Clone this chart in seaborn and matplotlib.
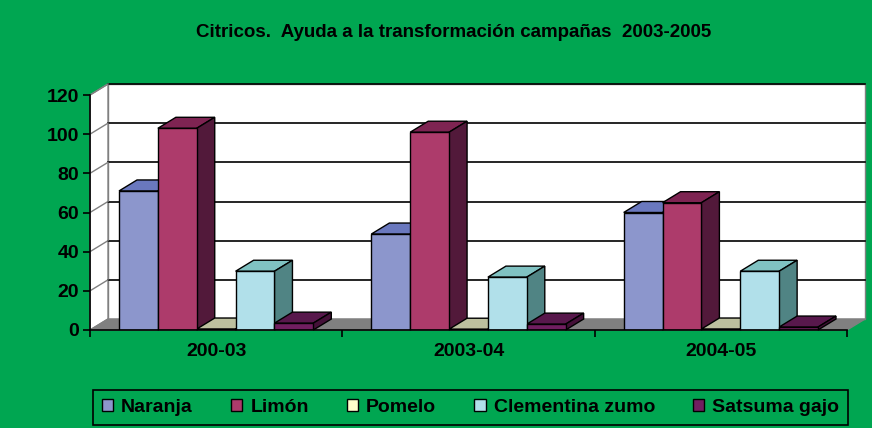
import pandas as pd
import matplotlib
matplotlib.use('Agg')
from matplotlib import pyplot as plt
from matplotlib.patches import Polygon, Patch
import seaborn as sns

campanas = ['200-03', '2003-04', '2004-05']
productos = ['Naranja', 'Limón', 'Pomelo', 'Clementina zumo', 'Satsuma gajo']
naranja = [71, 49, 60]
limon = [103, 101, 65]
pomelo = [0.5, 0.4, 0.5]
clementina = [30, 27, 30]
satsuma = [3.5, 3, 1.5]

# front / top / side colours per series
front = ['#8C96CC', '#AD3B6B', '#FFFFCC', '#B1E0EA', '#701E60']
top = ['#6A78BE', '#7E2452', '#BDC09E', '#80C2C2', '#58184C']
side = ['#4B5694', '#52193A', '#8F9270', '#508484', '#441038']
green = '#00A651'

df = pd.DataFrame({
    'Campaña': campanas * 5,
    'Producto': [p for p in productos for _ in campanas],
    'Valor': naranja + limon + pomelo + clementina + satsuma,
})

plt.rcParams['font.family'] = ['Liberation Sans', 'DejaVu Sans']
plt.rcParams['font.weight'] = 'bold'

fig = plt.figure(figsize=(8.72, 4.28), dpi=100)
fig.patch.set_facecolor(green)
W, H = 872, 428
x0, x1, y0, y1 = 90, 847, 330, 95
ax = fig.add_axes([x0 / W, 1 - y0 / H, (x1 - x0) / W, (y0 - y1) / H])
ax.set_facecolor('none')

sns.barplot(data=df, x='Campaña', y='Valor', hue='Producto', order=campanas,
            hue_order=productos, palette=front, saturation=1, width=0.77,
            edgecolor='black', linewidth=1, legend=False, ax=ax, zorder=3)

ax.set_xlim(-0.5, 2.5)
ax.set_ylim(0, 120)

# depth offset in data units (about 18 px right, 11 px up)
px_x = 3 / (x1 - x0)
px_y = 120 / (y0 - y1)
dx, dy = 18 * px_x, 11 * px_y

# back wall, left wall, floor
ax.add_patch(Polygon([(-0.5 + dx, dy), (2.5 + dx, dy), (2.5 + dx, 120 + dy), (-0.5 + dx, 120 + dy)],
                     closed=True, facecolor='white', edgecolor='#808080', lw=1, zorder=0, clip_on=False))
ax.add_patch(Polygon([(-0.5, 0), (-0.5 + dx, dy), (-0.5 + dx, 120 + dy), (-0.5, 120)],
                     closed=True, facecolor='white', edgecolor='#808080', lw=1, zorder=0, clip_on=False))
ax.add_patch(Polygon([(-0.5, 0), (2.5, 0), (2.5 + dx, dy), (-0.5 + dx, dy)],
                     closed=True, facecolor='#808080', edgecolor='#808080', lw=1, zorder=1, clip_on=False))
for v in range(20, 121, 20):
    ax.plot([-0.5 + dx, 2.5 + dx], [v + dy, v + dy], color='black', lw=1.2, zorder=1, clip_on=False)
    ax.plot([-0.5, -0.5 + dx], [v, v + dy], color='#808080', lw=1, zorder=1, clip_on=False)

# 3D top and side faces
for k, cont in enumerate(ax.containers):
    for bar in cont:
        x, w, h = bar.get_x(), bar.get_width(), bar.get_height()
        ax.add_patch(Polygon([(x, h), (x + w, h), (x + w + dx, h + dy), (x + dx, h + dy)],
                             closed=True, facecolor=top[k], edgecolor='black', lw=1, zorder=2, clip_on=False))
        ax.add_patch(Polygon([(x + w, 0), (x + w + dx, dy), (x + w + dx, h + dy), (x + w, h)],
                             closed=True, facecolor=side[k], edgecolor='black', lw=1, zorder=2, clip_on=False))

for s in ['top', 'right']:
    ax.spines[s].set_visible(False)
for s in ['left', 'bottom']:
    ax.spines[s].set_color('black')
    ax.spines[s].set_linewidth(1.2)
    ax.spines[s].set_zorder(4)

ax.set_yticks(range(0, 121, 20))
ax.tick_params(axis='y', length=5, width=1.2, labelsize=14, pad=3)
ax.set_xticks([-0.5, 0.5, 1.5, 2.5])
ax.set_xticklabels([])
ax.tick_params(axis='x', which='major', length=5, width=1.2)
ax.set_xticks([0, 1, 2], minor=True)
ax.set_xticklabels(campanas, minor=True, fontsize=14, fontweight='bold')
ax.tick_params(axis='x', which='minor', length=0, pad=9)
ax.set_xlabel('')
ax.set_ylabel('')
for lab in ax.get_yticklabels():
    lab.set_fontweight('bold')

fig.text(0.52, 0.925, 'Citricos.  Ayuda a la transformación campañas  2003-2005',
         ha='center', va='center', fontsize=13.5, fontweight='bold')

handles = [Patch(facecolor=c, edgecolor='black', lw=1) for c in front]
leg = fig.legend(handles, productos, ncol=5, loc='center', mode='expand',
                 bbox_to_anchor=(93 / W, 1 - 427 / H, (848 - 93) / W, 39 / H),
                 frameon=True, fancybox=False, edgecolor='black', facecolor=green,
                 framealpha=1, fontsize=14, handlelength=0.6, handleheight=0.6,
                 handletextpad=0.4, borderaxespad=0, borderpad=0.45)
leg.get_frame().set_linewidth(1.2)
for t in leg.get_texts():
    t.set_fontweight('bold')

fig.savefig('out.png', dpi=100, facecolor=fig.get_facecolor())
